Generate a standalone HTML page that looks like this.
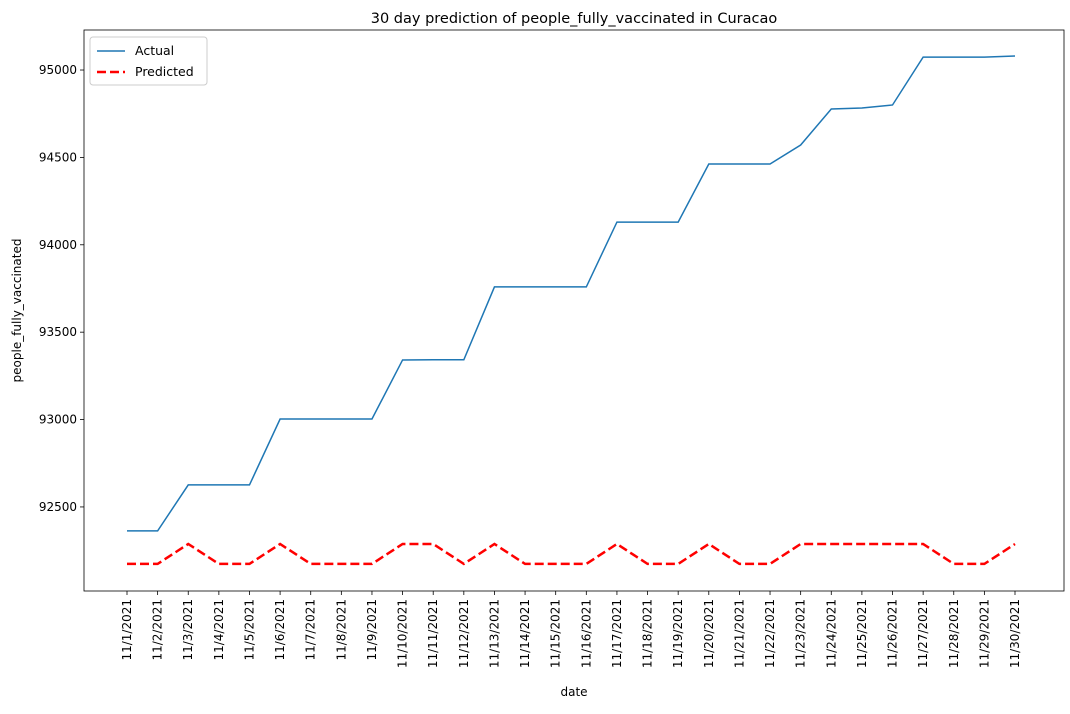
<!DOCTYPE html>
<html><head><meta charset="utf-8"><style>
body{margin:0;background:#fff;font-family:"Liberation Sans","DejaVu Sans",sans-serif;}
svg text{font-family:"DejaVu Sans","Liberation Sans",sans-serif;fill:#000;}
</style></head><body>
<svg id="chart" width="1070" height="709"></svg>
<script>
const dates=[];for(let i=1;i<=30;i++)dates.push('11/'+i+'/2021');
const actualValues=[92363,92363,92626,92626,92626,93003,93003,93003,93003,93341,93342,93342,93759,93759,93759,93759,94130,94130,94130,94462,94462,94462,94571,94777,94783,94800,95074,95074,95074,95080];
const predictedValues=[92174,92174,92288,92174,92174,92288,92174,92174,92174,92288,92288,92174,92288,92174,92174,92174,92288,92174,92174,92288,92174,92174,92288,92288,92288,92288,92288,92174,92174,92288];
const yTicks=[92500,93000,93500,94000,94500,95000];

const NS='http://www.w3.org/2000/svg';
const svg=document.getElementById('chart');
const L=84,R=1064,T=30,B=591;
const yMin=92019,yMax=95229;
const x=i=>127+i*(1015-127)/29;
const y=v=>B-(v-yMin)/(yMax-yMin)*(B-T);
function el(tag,attrs,parent){const e=document.createElementNS(NS,tag);for(const k in attrs)e.setAttribute(k,attrs[k]);(parent||svg).appendChild(e);return e;}

const frame=el('rect',{x:L,y:T,width:R-L,height:B-T,fill:'none',stroke:'#000','stroke-width':0.8});



yTicks.forEach(v=>{
  const g=el('g',{});
  
  
  el('line',{x1:L-4,x2:L,y1:y(v),y2:y(v),stroke:'#000','stroke-width':0.8},g);
  const t=el('text',{x:L-7,y:y(v)+4,'text-anchor':'end','font-size':12},g);t.textContent=v;
});
dates.forEach((d,i)=>{
  const g=el('g',{});
  
  
  el('line',{x1:x(i),x2:x(i),y1:B,y2:B+4,stroke:'#000','stroke-width':0.8},g);
  const t=el('text',{x:x(i)+4,y:B+8,'text-anchor':'end','font-size':12,transform:`rotate(-90 ${x(i)+4} ${B+8})`},g);t.textContent=d;
});

const pa=el('polyline',{points:actualValues.map((v,i)=>x(i)+','+y(v)).join(' '),fill:'none',stroke:'#1f77b4','stroke-width':1.5});


const pp=el('polyline',{points:predictedValues.map((v,i)=>x(i)+','+y(v)).join(' '),fill:'none',stroke:'#ff0000','stroke-width':2.5,'stroke-dasharray':'9,4'});



const title=el('text',{x:(L+R)/2,y:23,'text-anchor':'middle','font-size':14.5});title.textContent='30 day prediction of people_fully_vaccinated in Curacao';


const xt=el('text',{x:(L+R)/2,y:696,'text-anchor':'middle','font-size':12});xt.textContent='date';


const yt=el('text',{x:21,y:(T+B)/2,'text-anchor':'middle','font-size':12,transform:`rotate(-90 21 ${(T+B)/2})`});yt.textContent='people_fully_vaccinated';



const lg=el('g',{});


el('rect',{x:90,y:37,width:117,height:48,rx:3,fill:'#fff',stroke:'#ccc','stroke-width':1},lg);
el('line',{x1:97,x2:125,y1:51,y2:51,stroke:'#1f77b4','stroke-width':1.5},lg);
const t1=el('text',{x:135,y:55,'font-size':12.5},lg);t1.textContent='Actual';
el('line',{x1:97,x2:125,y1:72,y2:72,stroke:'#ff0000','stroke-width':2.5,'stroke-dasharray':'9,4'},lg);
const t2=el('text',{x:135,y:76,'font-size':12.5},lg);t2.textContent='Predicted';
</script>
</body></html>
